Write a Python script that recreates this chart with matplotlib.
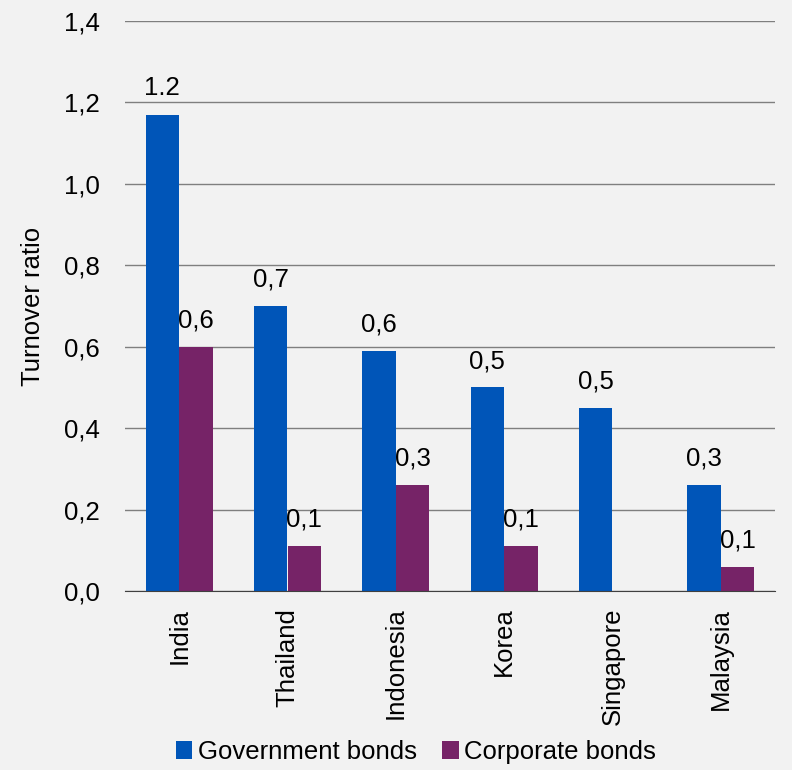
import numpy as np
import matplotlib.pyplot as plt

plt.rcParams['font.family'] = ['Liberation Sans', 'DejaVu Sans']

countries = ['India', 'Thailand', 'Indonesia', 'Korea', 'Singapore', 'Malaysia']
gov = [1.17, 0.70, 0.59, 0.50, 0.45, 0.26]
corp = [0.60, 0.11, 0.26, 0.11, np.nan, 0.06]
gov_labels = ['1.2', '0,7', '0,6', '0,5', '0,5', '0,3']
corp_labels = ['0,6', '0,1', '0,3', '0,1', '', '0,1']
yticks = [0.0, 0.2, 0.4, 0.6, 0.8, 1.0, 1.2, 1.4]

bg = '#F2F2F2'
blue = '#0055B8'
purple = '#762367'
fs = 18.5

fig = plt.figure(figsize=(7.92, 7.70), dpi=100, facecolor=bg)
ax = fig.add_axes([125/792, 1 - 591/770, 650/792, 570/770], facecolor=bg)

x = np.arange(len(countries))
w = 0.31
b1 = ax.bar(x - w/2, gov, w, color=blue, label='Government bonds', zorder=3)
b2 = ax.bar(x + w/2, corp, w, color=purple, label='Corporate bonds', zorder=3)

for rect, lab in zip(b1, gov_labels):
    ax.text(rect.get_x() + rect.get_width()/2, rect.get_height() + 0.035, lab,
            ha='center', va='bottom', fontsize=fs)
for rect, lab, v in zip(b2, corp_labels, corp):
    if lab and not np.isnan(v):
        ax.text(rect.get_x() + rect.get_width()/2, v + 0.035, lab,
                ha='center', va='bottom', fontsize=fs)

ax.set_xlim(-0.5, len(countries) - 0.5)
ax.set_ylim(0, 1.4)
ax.set_yticks(yticks)
ax.set_yticklabels([f'{t:.1f}'.replace('.', ',') for t in yticks], fontsize=fs)
ax.set_xticks(x)
ax.set_xticklabels(countries, rotation=90, fontsize=fs)
ax.tick_params(axis='y', length=0, pad=18)
ax.tick_params(axis='x', length=0, pad=12)
ax.yaxis.grid(True, color='#7F7F7F', linewidth=1, zorder=0)
for s in ['top', 'right', 'left']:
    ax.spines[s].set_visible(False)
ax.spines['bottom'].set_color('#404040')
ax.spines['bottom'].set_zorder(4)
ax.set_ylabel('Turnover ratio', fontsize=fs, labelpad=14)

fig.legend(handles=[b1, b2], loc='center', bbox_to_anchor=(0.525, 1 - 752/770),
           ncol=2, frameon=False, fontsize=fs, handlelength=0.65, handleheight=0.65,
           handletextpad=0.2, columnspacing=1.0)

fig.savefig('out.png', dpi=100, facecolor=bg)
